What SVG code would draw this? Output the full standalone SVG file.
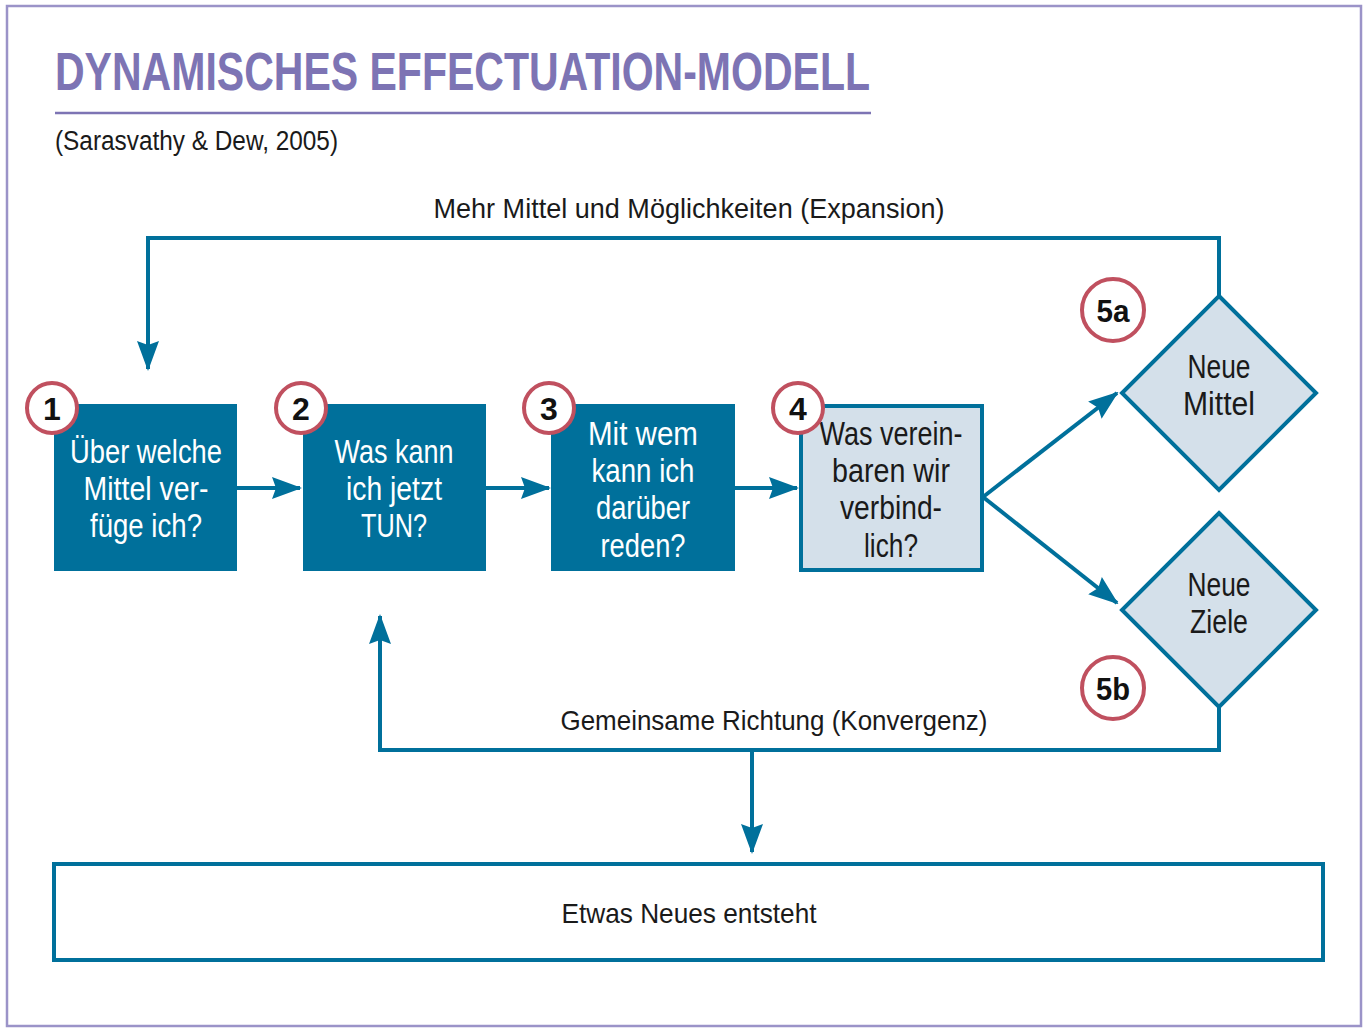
<svg xmlns="http://www.w3.org/2000/svg" width="1364" height="1033" viewBox="0 0 1364 1033">
<style>
.t{font-family:"Liberation Sans","DejaVu Sans",sans-serif;}
.w{fill:#ffffff;font-size:33px;text-anchor:middle;}
.d{fill:#1a1a1a;font-size:33px;text-anchor:middle;}
.lbl{fill:#1a1a1a;font-size:28px;text-anchor:middle;}
.num{fill:#111111;font-size:32px;font-weight:bold;text-anchor:middle;}
.box{fill:#00709b;}
.lbox{fill:#d4e0ea;stroke:#00709b;stroke-width:4;}
.circ{fill:#ffffff;stroke:#c0505f;stroke-width:4;}
.con{fill:none;stroke:#00709b;stroke-width:4;}
</style>
<defs>
<marker id="ah" viewBox="0 0 30 24" refX="28" refY="12" markerWidth="30" markerHeight="24" markerUnits="userSpaceOnUse" orient="auto">
<path d="M0,1 L30,12 L0,23 L4,12 Z" fill="#00709b"/>
</marker>
</defs>
<rect x="0" y="0" width="1364" height="1033" fill="#ffffff"/>
<rect x="7" y="6" width="1354" height="1020" fill="none" stroke="#9b93c8" stroke-width="2.5"/>
<g id="title">
<text class="t" x="55" y="90" font-size="54" font-weight="bold" fill="#7d74b4" textLength="815" lengthAdjust="spacingAndGlyphs">DYNAMISCHES EFFECTUATION-MODELL</text>
<line x1="55" y1="113" x2="871" y2="113" stroke="#7d74b4" stroke-width="2.5"/>
<text class="t" x="55" y="150" font-size="27" fill="#1a1a1a" textLength="283" lengthAdjust="spacingAndGlyphs">(Sarasvathy &amp; Dew, 2005)</text>
</g>
<g id="connectors">
<polyline class="con" points="1219,296 1219,238 148,238 148,369" marker-end="url(#ah)"/>
<line class="con" x1="237" y1="488" x2="300" y2="488" marker-end="url(#ah)"/>
<line class="con" x1="486" y1="488" x2="549" y2="488" marker-end="url(#ah)"/>
<line class="con" x1="735" y1="488" x2="797" y2="488" marker-end="url(#ah)"/>
<line class="con" x1="983" y1="497" x2="1117" y2="393" marker-end="url(#ah)"/>
<line class="con" x1="983" y1="497" x2="1117" y2="603" marker-end="url(#ah)"/>
<polyline class="con" points="1219,707 1219,750 380,750 380,616" marker-end="url(#ah)"/>
<line class="con" x1="752" y1="750" x2="752" y2="852" marker-end="url(#ah)"/>
<text class="t lbl" x="689" y="218" textLength="511" lengthAdjust="spacingAndGlyphs">Mehr Mittel und Möglichkeiten (Expansion)</text>
<text class="t lbl" x="774" y="730" textLength="427" lengthAdjust="spacingAndGlyphs">Gemeinsame Richtung (Konvergenz)</text>
</g>
<g id="node1">
<rect class="box" x="54" y="404" width="183" height="167"/>
<text class="t w" x="146" y="463" textLength="152" lengthAdjust="spacingAndGlyphs">Über welche</text>
<text class="t w" x="146" y="500" textLength="125" lengthAdjust="spacingAndGlyphs">Mittel ver-</text>
<text class="t w" x="146" y="537" textLength="112" lengthAdjust="spacingAndGlyphs">füge ich?</text>
<circle class="circ" cx="52" cy="408" r="25"/>
<text class="t num" x="52" y="420">1</text>
</g>
<g id="node2">
<rect class="box" x="303" y="404" width="183" height="167"/>
<text class="t w" x="394" y="463" textLength="119" lengthAdjust="spacingAndGlyphs">Was kann</text>
<text class="t w" x="394" y="500" textLength="96" lengthAdjust="spacingAndGlyphs">ich jetzt</text>
<text class="t w" x="394" y="537" textLength="66" lengthAdjust="spacingAndGlyphs">TUN?</text>
<circle class="circ" cx="301" cy="408" r="25"/>
<text class="t num" x="301" y="420">2</text>
</g>
<g id="node3">
<rect class="box" x="551" y="404" width="184" height="167"/>
<text class="t w" x="643" y="445" textLength="110" lengthAdjust="spacingAndGlyphs">Mit wem</text>
<text class="t w" x="643" y="482" textLength="103" lengthAdjust="spacingAndGlyphs">kann ich</text>
<text class="t w" x="643" y="519" textLength="94" lengthAdjust="spacingAndGlyphs">darüber</text>
<text class="t w" x="643" y="557" textLength="85" lengthAdjust="spacingAndGlyphs">reden?</text>
<circle class="circ" cx="549" cy="408" r="25"/>
<text class="t num" x="549" y="420">3</text>
</g>
<g id="node4">
<rect class="lbox" x="801" y="406" width="181" height="164"/>
<text class="t d" x="891" y="445" textLength="143" lengthAdjust="spacingAndGlyphs">Was verein-</text>
<text class="t d" x="891" y="482" textLength="118" lengthAdjust="spacingAndGlyphs">baren wir</text>
<text class="t d" x="891" y="519" textLength="102" lengthAdjust="spacingAndGlyphs">verbind-</text>
<text class="t d" x="891" y="557" textLength="54" lengthAdjust="spacingAndGlyphs">lich?</text>
<circle class="circ" cx="798" cy="408" r="25"/>
<text class="t num" x="798" y="420">4</text>
</g>
<g id="node5a">
<polygon class="lbox" points="1219,296 1316,393 1219,490 1122,393"/>
<text class="t d" x="1219" y="378" textLength="63" lengthAdjust="spacingAndGlyphs">Neue</text>
<text class="t d" x="1219" y="415" textLength="72" lengthAdjust="spacingAndGlyphs">Mittel</text>
<circle class="circ" cx="1113" cy="310" r="31"/>
<text class="t num" x="1113" y="322" textLength="33" lengthAdjust="spacingAndGlyphs">5a</text>
</g>
<g id="node5b">
<polygon class="lbox" points="1219,513 1316,610 1219,707 1122,610"/>
<text class="t d" x="1219" y="596" textLength="63" lengthAdjust="spacingAndGlyphs">Neue</text>
<text class="t d" x="1219" y="633" textLength="58" lengthAdjust="spacingAndGlyphs">Ziele</text>
<circle class="circ" cx="1113" cy="688" r="31"/>
<text class="t num" x="1113" y="700" textLength="34" lengthAdjust="spacingAndGlyphs">5b</text>
</g>
<g id="result">
<rect x="54" y="864" width="1269" height="96" fill="#ffffff" stroke="#00709b" stroke-width="4"/>
<text class="t lbl" x="689" y="923" textLength="255" lengthAdjust="spacingAndGlyphs">Etwas Neues entsteht</text>
</g>
</svg>
